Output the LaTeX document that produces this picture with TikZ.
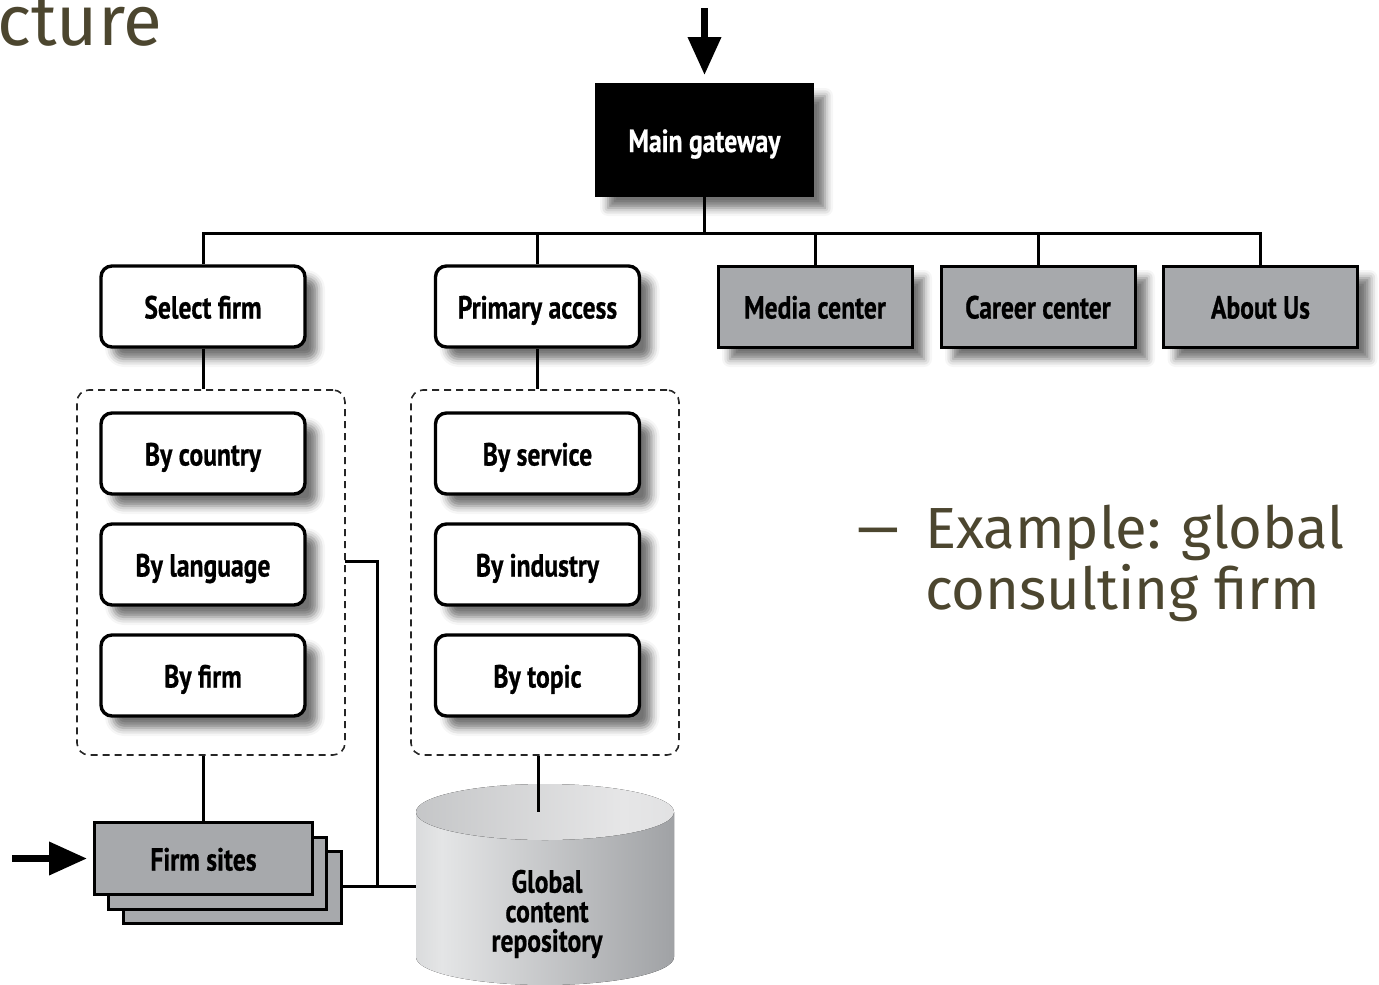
\documentclass[tikz,border=0pt]{standalone}
\usepackage{fontspec}
\setmainfont{Fira Sans}
\newfontfamily\boxfont{PT Sans}[FakeStretch=0.8, BoldFeatures={FakeBold=0.6}]
\usetikzlibrary{arrows.meta,shadows.blur}
\definecolor{boxgray}{RGB}{167,169,172}
\definecolor{slidetext}{RGB}{76,70,47}
\definecolor{cylA}{RGB}{168,170,173}
\definecolor{cylB}{RGB}{228,229,230}
\definecolor{cylC}{RGB}{160,162,165}
\definecolor{cylD}{RGB}{120,122,125}
\definecolor{topA}{RGB}{176,178,180}
\definecolor{topB}{RGB}{230,230,231}
\definecolor{topC}{RGB}{214,215,216}
\pgfdeclarehorizontalshading{cylbody}{100bp}{color(0bp)=(cylA); color(30bp)=(cylB); color(75bp)=(cylC); color(100bp)=(cylD)}
\pgfdeclarehorizontalshading{cyltop}{100bp}{color(0bp)=(topA); color(65bp)=(topB); color(100bp)=(topC)}
\begin{document}
\begin{tikzpicture}[x=1pt,y=-1pt,
  lblfont/.style={font=\boxfont\bfseries\fontsize{32}{30}\selectfont},
  lbl/.style={lblfont, text height=24pt, text depth=0pt},
  shad/.style={blur shadow={shadow xshift=12pt, shadow yshift=-12pt, shadow blur radius=8pt, shadow opacity=55}},
  gate/.style={lbl, draw=black, fill=black, text=white, line width=2pt, minimum width=217pt, minimum height=112pt, shad},
  wbox/.style={lbl, draw=black, fill=white, rounded corners=11pt, line width=3.4pt, minimum width=204pt, minimum height=81pt, shad},
  gbox/.style={lbl, draw=black, fill=boxgray, line width=3pt, minimum width=194pt, minimum height=81pt, shad},
  sbox/.style={lbl, draw=black, fill=boxgray, line width=3pt, minimum width=218pt, minimum height=72pt},
  dgroup/.style={draw=black!85, dash pattern=on 7pt off 5pt, line width=1.6pt, rounded corners=12pt, minimum width=268pt, minimum height=365pt},
  conn/.style={line width=3pt},
  bigarrow/.style={line width=7pt, -{Triangle[length=38pt,width=32pt]}},
  slide/.style={text=slidetext, inner sep=0pt}
]
\useasboundingbox (0,0) rectangle (1379,985);

% slide text
\node[slide, anchor=base west, font=\fontsize{71}{75}\selectfont] (title) at (-3,45) {cture};
\node[slide, anchor=base, font=\fontsize{58}{62}\selectfont, xscale=1.45, transform shape] (dash) at (878,548) {–};
\node[slide, anchor=base west, font=\fontsize{58}{62}\selectfont] (ex1) at (925,548) {Example: global};
\node[slide, anchor=base west, font=\fontsize{58}{62}\selectfont] (ex2) at (925,609) {consulting firm};

% top level
\node[gate] (gate) at (704.5,140) {Main gateway};
\node[wbox] (sel) at (203,306.5) {Select firm};
\node[wbox] (prim) at (537.5,306.5) {Primary access};
\node[gbox] (media) at (815,306.5) {Media center};
\node[gbox] (career) at (1038,306.5) {Career center};
\node[gbox] (about) at (1260.5,306.5) {About Us};

% groups
\node[dgroup] (g1) at (211,572.5) {};
\node[dgroup] (g2) at (545,572.5) {};
\node[wbox] (country) at (203,453.5) {By country};
\node[wbox] (lang) at (203,564.5) {By language};
\node[wbox] (firm) at (203,675.5) {By firm};
\node[wbox] (service) at (537.5,453.5) {By service};
\node[wbox] (industry) at (537.5,564.5) {By industry};
\node[wbox] (topic) at (537.5,675.5) {By topic};

% firm sites stack
\node[sbox] (fs3) at (232,887) {};
\node[sbox] (fs2) at (217.5,873) {};
\node[sbox] (fs1) at (203.5,858.5) {Firm sites};

% cylinder
\fill[shading=cylbody] (416,812) -- (416,957) arc[start angle=180, end angle=0, x radius=129, y radius=28] -- (674,812) -- cycle;
\fill[shading=cyltop] (545,812) ellipse[x radius=129, y radius=28];
\node[lblfont, align=center, font=\boxfont\bfseries\fontsize{32}{29.5}\selectfont] (repo) at (547,914) {Global\\content\\repository};
\coordinate (repotop) at (538,812);
\coordinate (repoleft) at (416,886);

% connectors
\coordinate (bus) at (704.5,233);
\draw[conn] (sel.north) |- (bus) -| (about.north);
\draw[conn] (gate.south) -- (bus);
\draw[conn] (prim.north) -- (prim.north |- bus);
\draw[conn] (media.north) -- (media.north |- bus);
\draw[conn] (career.north) -- (career.north |- bus);
\draw[conn] (sel.south) -- (sel.south |- g1.north);
\draw[conn] (prim.south) -- (prim.south |- g2.north);
\draw[conn] (fs1.north |- g1.south) -- (fs1.north);
\draw[conn] (repotop |- g2.south) -- (repotop);
\coordinate (lk) at (345,561);
\coordinate (junc) at (377,886);
\draw[conn] (lk) -| (junc);
\draw[conn] (fs3.east |- repoleft) -- (repoleft);

% incoming arrows
\coordinate (topin) at (704.5,8);
\coordinate (leftin) at (12,858.5);
\draw[bigarrow, shorten >=8pt] (topin) -- (gate.north);
\draw[bigarrow, shorten >=6pt] (leftin) -- (fs1.west);
\end{tikzpicture}
\end{document}
